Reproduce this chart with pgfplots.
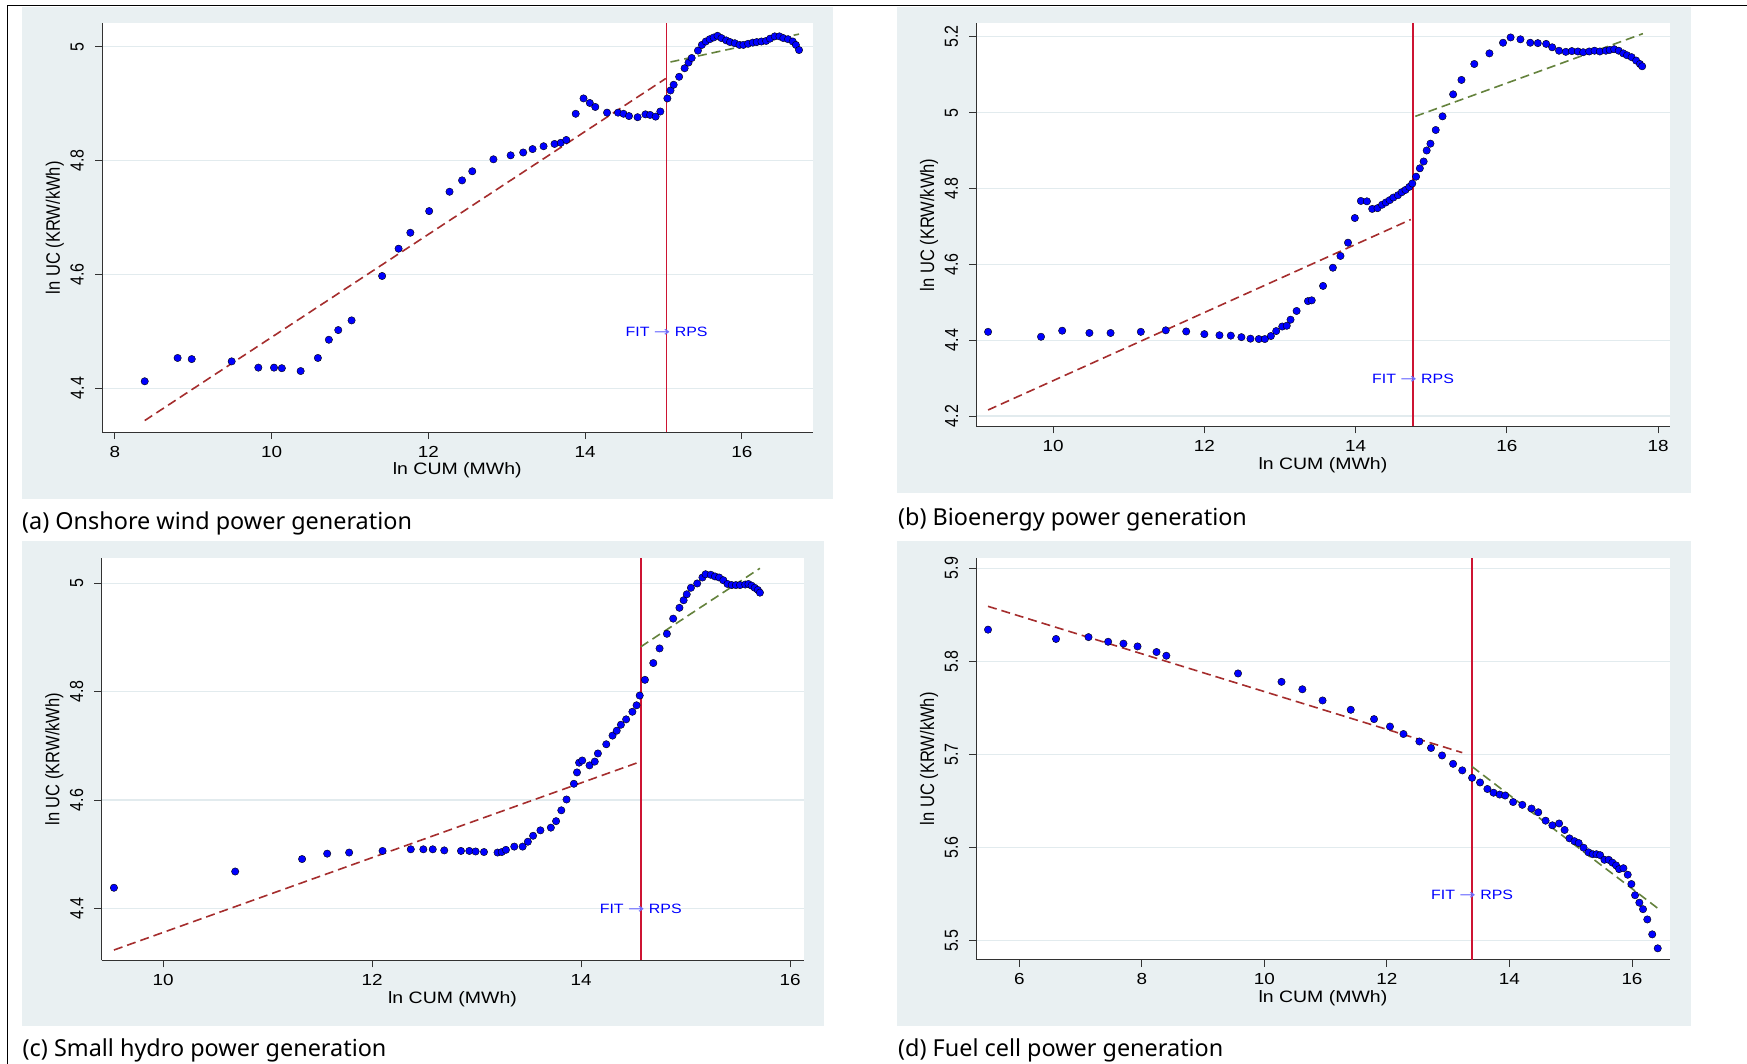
\documentclass[border=0pt]{standalone}
\usepackage{fontspec}
\setmainfont{Liberation Sans}
\newfontfamily\axh{Liberation Sans}[FakeStretch=1.18]
\newfontfamily\capfont{Noto Sans}
\newfontfamily\arrowfont{DejaVu Sans}
\usepackage{graphicx}
\usepackage{pgfplots}
\pgfplotsset{compat=1.18}

\definecolor{bgc}{RGB}{233,240,242}
\definecolor{gridc}{RGB}{226,235,238}
\definecolor{axc}{RGB}{50,50,50}
\definecolor{fitred}{RGB}{165,45,45}
\definecolor{fitgreen}{RGB}{100,130,60}
\definecolor{vlinec}{RGB}{205,20,50}
\definecolor{dotc}{RGB}{0,0,255}
\definecolor{arrc}{RGB}{110,110,255}

\pgfplotsset{
 panel/.style={
  scale only axis, anchor=south west,
  axis x line=bottom, axis y line=left,
  axis line style={-, draw=axc, line width=0.9pt},
  tick align=outside, major tick length=7pt,
  every tick/.style={draw=axc, line width=0.9pt},
  minor tick num=0,
  ymajorgrids, y grid style={draw=gridc, line width=1.2pt},
  axis background/.style={fill=white},
  /pgf/number format/assume math mode=true,
  xticklabel style={font=\axh\fontsize{16}{16}\selectfont, anchor=base, inner sep=0pt, yshift=-18pt},
  yticklabel={\scalebox{1}[1.18]{\pgfmathprintnumber{\tick}}},
  yticklabel style={font=\fontsize{16}{16}\selectfont, xshift=-11pt, rotate=90, anchor=south, inner sep=0pt},
  xlabel style={font=\axh\fontsize{16.5}{16.5}\selectfont, at={([yshift=-42.7pt]axis description cs:0.5,0)}, anchor=base, inner sep=0pt},
  ylabel style={font=\fontsize{16.5}{16.5}\selectfont, at={([xshift=-42pt]axis description cs:0,0.5)}, anchor=base, inner sep=0pt},
  xlabel={ln CUM (MWh)},
  ylabel={\scalebox{1}[1.18]{ln UC (KRW/kWh)}},
 },
 dots/.style={only marks, mark=*, mark size=3.7pt, mark options={fill=dotc, draw=none}},
 fitA/.style={fitred, line width=1.6pt, dash pattern=on 9pt off 5pt},
 fitB/.style={fitgreen, line width=1.6pt, dash pattern=on 9pt off 5pt},
 vl/.style={vlinec, line width=1.6pt},
}
\newcommand{\fitrps}{{\axh\fontsize{13.5}{13.5}\selectfont FIT {\arrowfont\color{arrc}\scalebox{1.45}[1]{→}} RPS}}

\begin{document}
\begin{tikzpicture}
\useasboundingbox (0pt,0pt) rectangle (1747pt,-1064pt);
\fill[bgc] (22pt,-6.7pt) rectangle (833.3pt,-499.3pt);
\fill[bgc] (897.3pt,-6.7pt) rectangle (1690.7pt,-492.7pt);
\fill[bgc] (22pt,-540.7pt) rectangle (824pt,-1025.7pt);
\fill[bgc] (897.3pt,-540.7pt) rectangle (1690.7pt,-1025.7pt);
\draw[line width=1.5pt] (7.5pt,-1064pt) -- (7.5pt,-5.7pt) -- (1747pt,-5.7pt);

\node[anchor=base west, inner sep=0pt, font=\capfont\fontsize{23.4}{23.4}\selectfont] at (22pt,-529pt) {(a) Onshore wind power generation};
\node[anchor=base west, inner sep=0pt, font=\capfont\fontsize{23.4}{23.4}\selectfont] at (898pt,-525.5pt) {(b) Bioenergy power generation};
\node[anchor=base west, inner sep=0pt, font=\capfont\fontsize{23.4}{23.4}\selectfont] at (22.5pt,-1056pt) {(c) Small hydro power generation};
\node[anchor=base west, inner sep=0pt, font=\capfont\fontsize{23.4}{23.4}\selectfont] at (898pt,-1056pt) {(d) Fuel cell power generation};

% ---------- (a) onshore wind
\begin{axis}[panel, at={(102pt,-432pt)}, width=710.5pt, height=408.6pt,
 xmin=7.835, xmax=16.902, ymin=4.3229, ymax=5.0408,
 xtick={8,10,12,14,16}, ytick={4.4,4.6,4.8,5}]
\addplot[vl] coordinates {(15.04,4.3229) (15.04,5.0408)};
\addplot[fitA] coordinates {(8.38,4.343) (15.03,4.944)};
\addplot[fitB] coordinates {(15.09,4.973) (16.73,5.022)};
\addplot[dots] coordinates {
(8.38,4.412) (8.80,4.453) (8.98,4.451) (9.49,4.447) (9.83,4.436) (10.03,4.436)
(10.13,4.435) (10.37,4.430) (10.59,4.453) (10.73,4.485) (10.85,4.502) (11.02,4.519)
(11.41,4.597) (11.62,4.645) (11.77,4.673) (12.01,4.711) (12.27,4.745) (12.43,4.765)
(12.56,4.781) (12.83,4.802) (13.05,4.809) (13.21,4.814) (13.33,4.820) (13.47,4.825)
(13.61,4.829) (13.69,4.831) (13.76,4.836) (13.88,4.882) (13.98,4.909) (14.06,4.901)
(14.13,4.894) (14.28,4.884) (14.42,4.884) (14.49,4.882) (14.56,4.878) (14.67,4.876)
(14.77,4.881) (14.83,4.880) (14.90,4.877) (14.96,4.886) (15.05,4.909) (15.09,4.923)
(15.13,4.933) (15.20,4.947) (15.27,4.962) (15.32,4.972) (15.36,4.980) (15.44,4.993)
(15.49,5.003) (15.54,5.009) (15.59,5.013) (15.64,5.016) (15.69,5.019) (15.74,5.015)
(15.80,5.011) (15.85,5.008) (15.91,5.006) (15.97,5.003) (16.02,5.003) (16.08,5.005)
(16.14,5.007) (16.19,5.008) (16.25,5.009) (16.31,5.010) (16.36,5.014) (16.42,5.018)
(16.48,5.018) (16.53,5.015) (16.59,5.013) (16.65,5.009) (16.69,5.003) (16.73,4.994)};
\node[anchor=base, inner sep=0pt, text=dotc] at (axis cs:15.04,4.490) {\fitrps};
\end{axis}

% ---------- (b) bioenergy
\begin{axis}[panel, at={(976.2pt,-426.3pt)}, width=693.4pt, height=402.9pt,
 xmin=8.983, xmax=18.153, ymin=4.173, ymax=5.235,
 xtick={10,12,14,16,18}, ytick={4.2,4.4,4.6,4.8,5,5.2}]
\addplot[vl] coordinates {(14.76,4.173) (14.76,5.235)};
\addplot[fitA] coordinates {(9.14,4.216) (14.73,4.718)};
\addplot[fitB] coordinates {(14.79,4.990) (17.80,5.208)};
\addplot[dots] coordinates {
(9.14,4.422) (9.84,4.409) (10.12,4.425) (10.48,4.419) (10.76,4.419) (11.16,4.422)
(11.49,4.426) (11.76,4.423) (12.00,4.416) (12.20,4.413) (12.35,4.412) (12.49,4.408)
(12.61,4.404) (12.72,4.403) (12.80,4.403) (12.88,4.411) (12.95,4.424) (13.03,4.436)
(13.09,4.438) (13.14,4.454) (13.22,4.477) (13.37,4.503) (13.42,4.505) (13.57,4.543)
(13.70,4.591) (13.80,4.622) (13.90,4.657) (13.99,4.722) (14.07,4.767) (14.15,4.766)
(14.22,4.746) (14.29,4.748) (14.35,4.757) (14.40,4.763) (14.45,4.769) (14.50,4.776)
(14.56,4.782) (14.61,4.790) (14.66,4.796) (14.71,4.804) (14.75,4.813) (14.80,4.831)
(14.85,4.853) (14.90,4.871) (14.94,4.900) (14.99,4.918) (15.06,4.954) (15.15,4.990)
(15.29,5.048) (15.40,5.086) (15.57,5.128) (15.77,5.156) (15.95,5.184) (16.05,5.198)
(16.18,5.193) (16.31,5.184) (16.41,5.183) (16.52,5.181) (16.60,5.172) (16.69,5.163)
(16.78,5.160) (16.86,5.162) (16.94,5.161) (17.01,5.159) (17.09,5.161) (17.16,5.163)
(17.23,5.161) (17.31,5.163) (17.36,5.165) (17.42,5.167) (17.48,5.163) (17.54,5.156)
(17.59,5.151) (17.65,5.146) (17.71,5.137) (17.76,5.128) (17.79,5.122)};
\node[anchor=base, inner sep=0pt, text=dotc] at (axis cs:14.76,4.285) {\fitrps};
\end{axis}

% ---------- (c) small hydro
\begin{axis}[panel, at={(101.5pt,-960.3pt)}, width=702pt, height=402.3pt,
 xmin=9.411, xmax=16.127, ymin=4.304, ymax=5.047,
 xtick={10,12,14,16}, ytick={4.4,4.6,4.8,5}]
\addplot[vl] coordinates {(14.57,4.304) (14.57,5.047)};
\addplot[fitA] coordinates {(9.53,4.323) (14.54,4.669)};
\addplot[fitB] coordinates {(14.57,4.883) (15.71,5.028)};
\addplot[dots] coordinates {
(9.53,4.438) (10.69,4.468) (11.33,4.491) (11.57,4.501) (11.78,4.503) (12.10,4.506)
(12.37,4.509) (12.49,4.509) (12.58,4.509) (12.69,4.507) (12.85,4.506) (12.93,4.506)
(12.99,4.505) (13.07,4.504) (13.20,4.503) (13.24,4.504) (13.28,4.508) (13.36,4.514)
(13.44,4.514) (13.49,4.523) (13.54,4.534) (13.61,4.544) (13.71,4.549) (13.76,4.561)
(13.81,4.581) (13.86,4.601) (13.93,4.630) (13.96,4.651) (13.98,4.669) (14.01,4.673)
(14.08,4.664) (14.13,4.671) (14.16,4.686) (14.24,4.703) (14.30,4.719) (14.34,4.728)
(14.38,4.739) (14.43,4.749) (14.49,4.763) (14.53,4.775) (14.56,4.793) (14.61,4.822)
(14.69,4.853) (14.75,4.880) (14.82,4.907) (14.88,4.935) (14.94,4.955) (14.98,4.969)
(15.01,4.980) (15.05,4.992) (15.11,5.000) (15.16,5.011) (15.19,5.017) (15.24,5.016)
(15.28,5.013) (15.32,5.011) (15.36,5.006) (15.40,4.999) (15.44,4.997) (15.48,4.997)
(15.52,4.997) (15.57,4.998) (15.60,4.999) (15.63,4.996) (15.66,4.992) (15.69,4.988)
(15.71,4.983)};
\node[anchor=base, inner sep=0pt, text=dotc] at (axis cs:14.57,4.391) {\fitrps};
\end{axis}

% ---------- (d) fuel cell
\begin{axis}[panel, at={(976.2pt,-959.5pt)}, width=693.4pt, height=401.6pt,
 xmin=5.297, xmax=16.614, ymin=5.480, ymax=5.911,
 xtick={6,8,10,12,14,16}, ytick={5.5,5.6,5.7,5.8,5.9}]
\addplot[vl] coordinates {(13.39,5.480) (13.39,5.911)};
\addplot[fitA] coordinates {(5.49,5.859) (13.23,5.702)};
\addplot[fitB] coordinates {(13.39,5.687) (16.42,5.535)};
\addplot[dots] coordinates {
(5.49,5.834) (6.60,5.824) (7.13,5.826) (7.45,5.821) (7.70,5.819) (7.93,5.816)
(8.24,5.810) (8.40,5.806) (9.57,5.787) (10.28,5.778) (10.62,5.770) (10.95,5.758)
(11.41,5.748) (11.79,5.738) (12.05,5.730) (12.27,5.722) (12.53,5.714) (12.72,5.707)
(12.90,5.699) (13.08,5.690) (13.23,5.683) (13.39,5.675) (13.52,5.670) (13.64,5.663)
(13.74,5.659) (13.84,5.657) (13.93,5.656) (14.06,5.649) (14.21,5.646) (14.36,5.642)
(14.47,5.638) (14.59,5.629) (14.70,5.624) (14.81,5.626) (14.90,5.619) (14.98,5.610)
(15.06,5.607) (15.13,5.605) (15.21,5.600) (15.29,5.595) (15.36,5.593) (15.42,5.593)
(15.48,5.592) (15.55,5.587) (15.62,5.587) (15.68,5.584) (15.74,5.581) (15.79,5.577)
(15.86,5.578) (15.93,5.571) (15.99,5.561) (16.05,5.549) (16.12,5.541) (16.18,5.534)
(16.25,5.523) (16.33,5.507) (16.42,5.492)};
\node[anchor=base, inner sep=0pt, text=dotc] at (axis cs:13.39,5.544) {\fitrps};
\end{axis}
\end{tikzpicture}
\end{document}
